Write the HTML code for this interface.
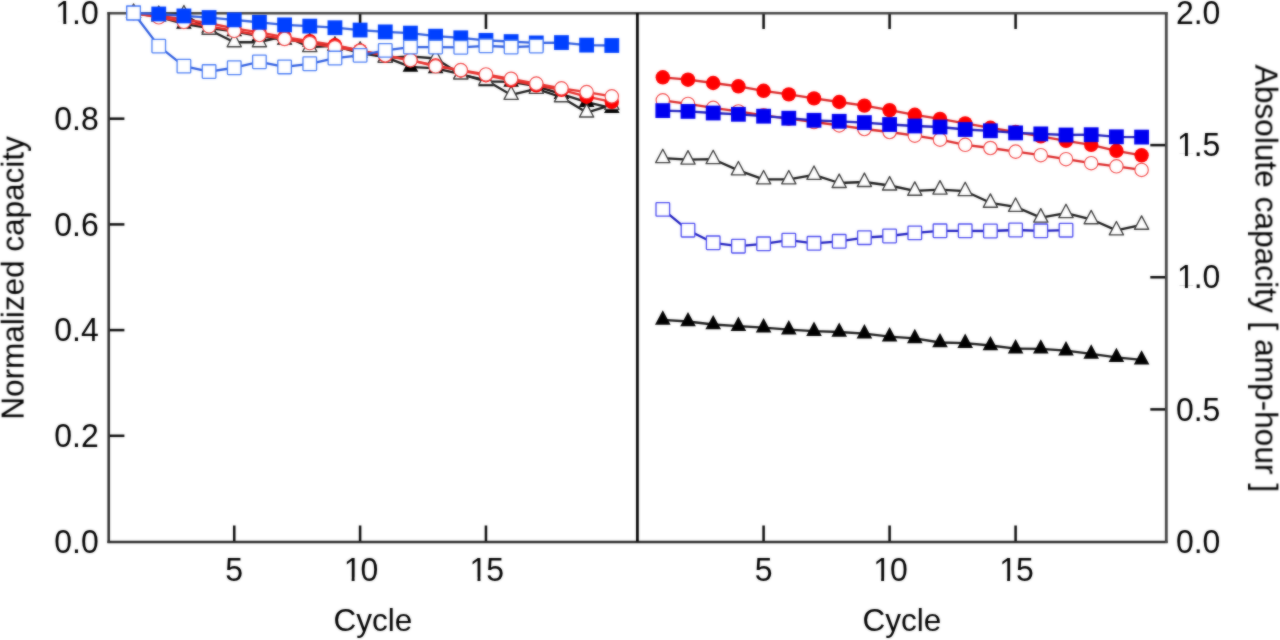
<!DOCTYPE html>
<html><head><meta charset="utf-8"><title>Capacity vs Cycle</title><style>
html,body{margin:0;padding:0;background:#fff;width:1280px;height:640px;overflow:hidden}
svg{display:block;font-family:"Liberation Sans",sans-serif;font-kerning:none}
</style></head><body>
<svg width="1280" height="640" viewBox="0 0 1280 640">
<defs><filter id="soft" x="0" y="0" width="1" height="1" color-interpolation-filters="sRGB"><feGaussianBlur in="SourceGraphic" stdDeviation="1" result="b"/><feComposite in="SourceGraphic" in2="b" operator="arithmetic" k1="0" k2="0.45" k3="0.55" k4="0"/></filter></defs>
<rect width="1280" height="640" fill="#fff"/>
<g filter="url(#soft)">
<rect width="1280" height="640" fill="#fff"/>
<g id="axes">
<line x1="234.25" y1="541.5" x2="234.25" y2="525.5" stroke="#0a0a0a" stroke-width="2.5"/>
<line x1="234.25" y1="13.0" x2="234.25" y2="29.0" stroke="#0a0a0a" stroke-width="2.5"/>
<line x1="763.6" y1="541.5" x2="763.6" y2="525.5" stroke="#0a0a0a" stroke-width="2.5"/>
<line x1="763.6" y1="13.0" x2="763.6" y2="29.0" stroke="#0a0a0a" stroke-width="2.5"/>
<line x1="360.1" y1="541.5" x2="360.1" y2="525.5" stroke="#0a0a0a" stroke-width="2.5"/>
<line x1="360.1" y1="13.0" x2="360.1" y2="29.0" stroke="#0a0a0a" stroke-width="2.5"/>
<line x1="889.6" y1="541.5" x2="889.6" y2="525.5" stroke="#0a0a0a" stroke-width="2.5"/>
<line x1="889.6" y1="13.0" x2="889.6" y2="29.0" stroke="#0a0a0a" stroke-width="2.5"/>
<line x1="485.95" y1="541.5" x2="485.95" y2="525.5" stroke="#0a0a0a" stroke-width="2.5"/>
<line x1="485.95" y1="13.0" x2="485.95" y2="29.0" stroke="#0a0a0a" stroke-width="2.5"/>
<line x1="1015.6" y1="541.5" x2="1015.6" y2="525.5" stroke="#0a0a0a" stroke-width="2.5"/>
<line x1="1015.6" y1="13.0" x2="1015.6" y2="29.0" stroke="#0a0a0a" stroke-width="2.5"/>
<line x1="108.6" y1="435.8" x2="124.4" y2="435.8" stroke="#0a0a0a" stroke-width="2.5"/>
<line x1="108.6" y1="330.1" x2="124.4" y2="330.1" stroke="#0a0a0a" stroke-width="2.5"/>
<line x1="108.6" y1="224.4" x2="124.4" y2="224.4" stroke="#0a0a0a" stroke-width="2.5"/>
<line x1="108.6" y1="118.7" x2="124.4" y2="118.7" stroke="#0a0a0a" stroke-width="2.5"/>
<line x1="1150.3" y1="409.38" x2="1166.3" y2="409.38" stroke="#0a0a0a" stroke-width="2.5"/>
<line x1="1150.3" y1="277.25" x2="1166.3" y2="277.25" stroke="#0a0a0a" stroke-width="2.5"/>
<line x1="1150.3" y1="145.12" x2="1166.3" y2="145.12" stroke="#0a0a0a" stroke-width="2.5"/>
<line x1="107.4" y1="13.2" x2="1167.6" y2="13.2" stroke="#434343" stroke-width="2.6"/>
<line x1="107.4" y1="541.9" x2="1167.6" y2="541.9" stroke="#2a2a2a" stroke-width="2.5"/>
<line x1="108.7" y1="12.0" x2="108.7" y2="543.0" stroke="#303030" stroke-width="2.6"/>
<line x1="1166.3" y1="12.0" x2="1166.3" y2="543.0" stroke="#444" stroke-width="2.8"/>
<line x1="637.4" y1="13.0" x2="637.4" y2="541.5" stroke="#000" stroke-width="2.7"/>
</g>
<g id="normalized">
<polyline points="133.57,13 158.74,16.82 183.91,23.97 209.08,28.03 234.25,31.36 259.42,36.13 284.59,39.95 309.76,41.86 334.93,45.91 360.1,53.07 385.27,57.12 410.44,66.9 435.61,68.33 460.78,74.05 485.95,81.45 511.12,81.92 536.29,86.22 561.46,94.09 586.63,102.2 611.8,108.16" fill="none" stroke="#1a1a1a" stroke-width="2.3" stroke-linejoin="round"/>
<path d="M133.57,3.4L141.37,17.8L125.77,17.8Z" fill="#000" stroke="none" stroke-width="0" stroke-linejoin="round"/>
<path d="M158.74,7.22L166.54,21.62L150.94,21.62Z" fill="#000" stroke="none" stroke-width="0" stroke-linejoin="round"/>
<path d="M183.91,14.37L191.71,28.77L176.11,28.77Z" fill="#000" stroke="none" stroke-width="0" stroke-linejoin="round"/>
<path d="M209.08,18.43L216.88,32.83L201.28,32.83Z" fill="#000" stroke="none" stroke-width="0" stroke-linejoin="round"/>
<path d="M234.25,21.76L242.05,36.16L226.45,36.16Z" fill="#000" stroke="none" stroke-width="0" stroke-linejoin="round"/>
<path d="M259.42,26.53L267.22,40.93L251.62,40.93Z" fill="#000" stroke="none" stroke-width="0" stroke-linejoin="round"/>
<path d="M284.59,30.35L292.39,44.75L276.79,44.75Z" fill="#000" stroke="none" stroke-width="0" stroke-linejoin="round"/>
<path d="M309.76,32.26L317.56,46.66L301.96,46.66Z" fill="#000" stroke="none" stroke-width="0" stroke-linejoin="round"/>
<path d="M334.93,36.31L342.73,50.71L327.13,50.71Z" fill="#000" stroke="none" stroke-width="0" stroke-linejoin="round"/>
<path d="M360.1,43.47L367.9,57.87L352.3,57.87Z" fill="#000" stroke="none" stroke-width="0" stroke-linejoin="round"/>
<path d="M385.27,47.52L393.07,61.92L377.47,61.92Z" fill="#000" stroke="none" stroke-width="0" stroke-linejoin="round"/>
<path d="M410.44,57.3L418.24,71.7L402.64,71.7Z" fill="#000" stroke="none" stroke-width="0" stroke-linejoin="round"/>
<path d="M435.61,58.73L443.41,73.13L427.81,73.13Z" fill="#000" stroke="none" stroke-width="0" stroke-linejoin="round"/>
<path d="M460.78,64.45L468.58,78.85L452.98,78.85Z" fill="#000" stroke="none" stroke-width="0" stroke-linejoin="round"/>
<path d="M485.95,71.85L493.75,86.25L478.15,86.25Z" fill="#000" stroke="none" stroke-width="0" stroke-linejoin="round"/>
<path d="M511.12,72.32L518.92,86.72L503.32,86.72Z" fill="#000" stroke="none" stroke-width="0" stroke-linejoin="round"/>
<path d="M536.29,76.62L544.09,91.02L528.49,91.02Z" fill="#000" stroke="none" stroke-width="0" stroke-linejoin="round"/>
<path d="M561.46,84.49L569.26,98.89L553.66,98.89Z" fill="#000" stroke="none" stroke-width="0" stroke-linejoin="round"/>
<path d="M586.63,92.6L594.43,107L578.83,107Z" fill="#000" stroke="none" stroke-width="0" stroke-linejoin="round"/>
<path d="M611.8,98.56L619.6,112.96L604,112.96Z" fill="#000" stroke="none" stroke-width="0" stroke-linejoin="round"/>
<polyline points="133.57,13 158.74,14.93 183.91,14.38 209.08,29.82 234.25,42.23 259.42,42.23 284.59,36.03 309.76,47.19 334.93,45.82 360.1,50.64 385.27,57.95 410.44,56.29 435.61,58.5 460.78,74.5 485.95,80.15 511.12,94.9 536.29,88.83 561.46,97.25 586.63,112.55 611.8,104.83" fill="none" stroke="#1a1a1a" stroke-width="2.3" stroke-linejoin="round"/>
<path d="M133.57,4.07L140.67,17.47L126.47,17.47Z" fill="#fff" stroke="#3a3a3a" stroke-width="1.35" stroke-linejoin="round"/>
<path d="M158.74,6L165.84,19.4L151.64,19.4Z" fill="#fff" stroke="#3a3a3a" stroke-width="1.35" stroke-linejoin="round"/>
<path d="M183.91,5.45L191.01,18.85L176.81,18.85Z" fill="#fff" stroke="#3a3a3a" stroke-width="1.35" stroke-linejoin="round"/>
<path d="M209.08,20.89L216.18,34.29L201.98,34.29Z" fill="#fff" stroke="#3a3a3a" stroke-width="1.35" stroke-linejoin="round"/>
<path d="M234.25,33.3L241.35,46.7L227.15,46.7Z" fill="#fff" stroke="#3a3a3a" stroke-width="1.35" stroke-linejoin="round"/>
<path d="M259.42,33.3L266.52,46.7L252.32,46.7Z" fill="#fff" stroke="#3a3a3a" stroke-width="1.35" stroke-linejoin="round"/>
<path d="M284.59,27.09L291.69,40.49L277.49,40.49Z" fill="#fff" stroke="#3a3a3a" stroke-width="1.35" stroke-linejoin="round"/>
<path d="M309.76,38.26L316.86,51.66L302.66,51.66Z" fill="#fff" stroke="#3a3a3a" stroke-width="1.35" stroke-linejoin="round"/>
<path d="M334.93,36.88L342.03,50.28L327.83,50.28Z" fill="#fff" stroke="#3a3a3a" stroke-width="1.35" stroke-linejoin="round"/>
<path d="M360.1,41.71L367.2,55.11L353,55.11Z" fill="#fff" stroke="#3a3a3a" stroke-width="1.35" stroke-linejoin="round"/>
<path d="M385.27,49.02L392.37,62.42L378.17,62.42Z" fill="#fff" stroke="#3a3a3a" stroke-width="1.35" stroke-linejoin="round"/>
<path d="M410.44,47.36L417.54,60.76L403.34,60.76Z" fill="#fff" stroke="#3a3a3a" stroke-width="1.35" stroke-linejoin="round"/>
<path d="M435.61,49.57L442.71,62.97L428.51,62.97Z" fill="#fff" stroke="#3a3a3a" stroke-width="1.35" stroke-linejoin="round"/>
<path d="M460.78,65.56L467.88,78.96L453.68,78.96Z" fill="#fff" stroke="#3a3a3a" stroke-width="1.35" stroke-linejoin="round"/>
<path d="M485.95,71.21L493.05,84.61L478.85,84.61Z" fill="#fff" stroke="#3a3a3a" stroke-width="1.35" stroke-linejoin="round"/>
<path d="M511.12,85.97L518.22,99.37L504.02,99.37Z" fill="#fff" stroke="#3a3a3a" stroke-width="1.35" stroke-linejoin="round"/>
<path d="M536.29,79.9L543.39,93.3L529.19,93.3Z" fill="#fff" stroke="#3a3a3a" stroke-width="1.35" stroke-linejoin="round"/>
<path d="M561.46,88.31L568.56,101.71L554.36,101.71Z" fill="#fff" stroke="#3a3a3a" stroke-width="1.35" stroke-linejoin="round"/>
<path d="M586.63,103.62L593.73,117.02L579.53,117.02Z" fill="#fff" stroke="#3a3a3a" stroke-width="1.35" stroke-linejoin="round"/>
<path d="M611.8,95.9L618.9,109.3L604.7,109.3Z" fill="#fff" stroke="#3a3a3a" stroke-width="1.35" stroke-linejoin="round"/>
<polyline points="133.57,13 158.74,15.73 183.91,19.49 209.08,23.25 234.25,28.37 259.42,32.47 284.59,37.02 309.76,41.12 334.93,45.22 360.1,50.46 385.27,55.69 410.44,60.36 435.61,65.49 460.78,70.5 485.95,75.28 511.12,80.29 536.29,85.3 561.46,89.85 586.63,96.68 611.8,101.8" fill="none" stroke="#e8302c" stroke-width="2.3" stroke-linejoin="round"/>
<circle cx="133.57" cy="13" r="7.2" fill="#ff0000" stroke="none" stroke-width="0"/>
<circle cx="158.74" cy="15.73" r="7.2" fill="#ff0000" stroke="none" stroke-width="0"/>
<circle cx="183.91" cy="19.49" r="7.2" fill="#ff0000" stroke="none" stroke-width="0"/>
<circle cx="209.08" cy="23.25" r="7.2" fill="#ff0000" stroke="none" stroke-width="0"/>
<circle cx="234.25" cy="28.37" r="7.2" fill="#ff0000" stroke="none" stroke-width="0"/>
<circle cx="259.42" cy="32.47" r="7.2" fill="#ff0000" stroke="none" stroke-width="0"/>
<circle cx="284.59" cy="37.02" r="7.2" fill="#ff0000" stroke="none" stroke-width="0"/>
<circle cx="309.76" cy="41.12" r="7.2" fill="#ff0000" stroke="none" stroke-width="0"/>
<circle cx="334.93" cy="45.22" r="7.2" fill="#ff0000" stroke="none" stroke-width="0"/>
<circle cx="360.1" cy="50.46" r="7.2" fill="#ff0000" stroke="none" stroke-width="0"/>
<circle cx="385.27" cy="55.69" r="7.2" fill="#ff0000" stroke="none" stroke-width="0"/>
<circle cx="410.44" cy="60.36" r="7.2" fill="#ff0000" stroke="none" stroke-width="0"/>
<circle cx="435.61" cy="65.49" r="7.2" fill="#ff0000" stroke="none" stroke-width="0"/>
<circle cx="460.78" cy="70.5" r="7.2" fill="#ff0000" stroke="none" stroke-width="0"/>
<circle cx="485.95" cy="75.28" r="7.2" fill="#ff0000" stroke="none" stroke-width="0"/>
<circle cx="511.12" cy="80.29" r="7.2" fill="#ff0000" stroke="none" stroke-width="0"/>
<circle cx="536.29" cy="85.3" r="7.2" fill="#ff0000" stroke="none" stroke-width="0"/>
<circle cx="561.46" cy="89.85" r="7.2" fill="#ff0000" stroke="none" stroke-width="0"/>
<circle cx="586.63" cy="96.68" r="7.2" fill="#ff0000" stroke="none" stroke-width="0"/>
<circle cx="611.8" cy="101.8" r="7.2" fill="#ff0000" stroke="none" stroke-width="0"/>
<polyline points="133.57,13 158.74,17.31 183.91,21.98 209.08,26.3 234.25,30.97 259.42,35.04 284.59,38.99 309.76,43.07 334.93,47.38 360.1,50.97 385.27,55.28 410.44,60.2 435.61,66.31 460.78,70.14 485.95,74.45 511.12,78.76 536.29,83.55 561.46,88.35 586.63,92.06 611.8,96.37" fill="none" stroke="#e8302c" stroke-width="2.3" stroke-linejoin="round"/>
<circle cx="133.57" cy="13" r="6.7" fill="#fff" stroke="#f24848" stroke-width="1.15"/>
<circle cx="158.74" cy="17.31" r="6.7" fill="#fff" stroke="#f24848" stroke-width="1.15"/>
<circle cx="183.91" cy="21.98" r="6.7" fill="#fff" stroke="#f24848" stroke-width="1.15"/>
<circle cx="209.08" cy="26.3" r="6.7" fill="#fff" stroke="#f24848" stroke-width="1.15"/>
<circle cx="234.25" cy="30.97" r="6.7" fill="#fff" stroke="#f24848" stroke-width="1.15"/>
<circle cx="259.42" cy="35.04" r="6.7" fill="#fff" stroke="#f24848" stroke-width="1.15"/>
<circle cx="284.59" cy="38.99" r="6.7" fill="#fff" stroke="#f24848" stroke-width="1.15"/>
<circle cx="309.76" cy="43.07" r="6.7" fill="#fff" stroke="#f24848" stroke-width="1.15"/>
<circle cx="334.93" cy="47.38" r="6.7" fill="#fff" stroke="#f24848" stroke-width="1.15"/>
<circle cx="360.1" cy="50.97" r="6.7" fill="#fff" stroke="#f24848" stroke-width="1.15"/>
<circle cx="385.27" cy="55.28" r="6.7" fill="#fff" stroke="#f24848" stroke-width="1.15"/>
<circle cx="410.44" cy="60.2" r="6.7" fill="#fff" stroke="#f24848" stroke-width="1.15"/>
<circle cx="435.61" cy="66.31" r="6.7" fill="#fff" stroke="#f24848" stroke-width="1.15"/>
<circle cx="460.78" cy="70.14" r="6.7" fill="#fff" stroke="#f24848" stroke-width="1.15"/>
<circle cx="485.95" cy="74.45" r="6.7" fill="#fff" stroke="#f24848" stroke-width="1.15"/>
<circle cx="511.12" cy="78.76" r="6.7" fill="#fff" stroke="#f24848" stroke-width="1.15"/>
<circle cx="536.29" cy="83.55" r="6.7" fill="#fff" stroke="#f24848" stroke-width="1.15"/>
<circle cx="561.46" cy="88.35" r="6.7" fill="#fff" stroke="#f24848" stroke-width="1.15"/>
<circle cx="586.63" cy="92.06" r="6.7" fill="#fff" stroke="#f24848" stroke-width="1.15"/>
<circle cx="611.8" cy="96.37" r="6.7" fill="#fff" stroke="#f24848" stroke-width="1.15"/>
<polyline points="133.57,13 158.74,13.98 183.91,15.94 209.08,17.54 234.25,19.87 259.42,22.32 284.59,24.9 309.76,26.12 334.93,27.72 360.1,30.05 385.27,31.89 410.44,33.11 435.61,36.18 460.78,37.78 485.95,40.35 511.12,41.58 536.29,42.93 561.46,42.56 586.63,45.13 611.8,45.5" fill="none" stroke="#2f5ee0" stroke-width="2.3" stroke-linejoin="round"/>
<rect x="126.17" y="5.6" width="14.8" height="14.8" fill="#0040ff" stroke="none" stroke-width="0"/>
<rect x="151.34" y="6.58" width="14.8" height="14.8" fill="#0040ff" stroke="none" stroke-width="0"/>
<rect x="176.51" y="8.54" width="14.8" height="14.8" fill="#0040ff" stroke="none" stroke-width="0"/>
<rect x="201.68" y="10.14" width="14.8" height="14.8" fill="#0040ff" stroke="none" stroke-width="0"/>
<rect x="226.85" y="12.47" width="14.8" height="14.8" fill="#0040ff" stroke="none" stroke-width="0"/>
<rect x="252.02" y="14.92" width="14.8" height="14.8" fill="#0040ff" stroke="none" stroke-width="0"/>
<rect x="277.19" y="17.5" width="14.8" height="14.8" fill="#0040ff" stroke="none" stroke-width="0"/>
<rect x="302.36" y="18.72" width="14.8" height="14.8" fill="#0040ff" stroke="none" stroke-width="0"/>
<rect x="327.53" y="20.32" width="14.8" height="14.8" fill="#0040ff" stroke="none" stroke-width="0"/>
<rect x="352.7" y="22.65" width="14.8" height="14.8" fill="#0040ff" stroke="none" stroke-width="0"/>
<rect x="377.87" y="24.49" width="14.8" height="14.8" fill="#0040ff" stroke="none" stroke-width="0"/>
<rect x="403.04" y="25.71" width="14.8" height="14.8" fill="#0040ff" stroke="none" stroke-width="0"/>
<rect x="428.21" y="28.78" width="14.8" height="14.8" fill="#0040ff" stroke="none" stroke-width="0"/>
<rect x="453.38" y="30.38" width="14.8" height="14.8" fill="#0040ff" stroke="none" stroke-width="0"/>
<rect x="478.55" y="32.95" width="14.8" height="14.8" fill="#0040ff" stroke="none" stroke-width="0"/>
<rect x="503.72" y="34.18" width="14.8" height="14.8" fill="#0040ff" stroke="none" stroke-width="0"/>
<rect x="528.89" y="35.53" width="14.8" height="14.8" fill="#0040ff" stroke="none" stroke-width="0"/>
<rect x="554.06" y="35.16" width="14.8" height="14.8" fill="#0040ff" stroke="none" stroke-width="0"/>
<rect x="579.23" y="37.73" width="14.8" height="14.8" fill="#0040ff" stroke="none" stroke-width="0"/>
<rect x="604.4" y="38.1" width="14.8" height="14.8" fill="#0040ff" stroke="none" stroke-width="0"/>
<polyline points="133.57,13 158.74,46.1 183.91,66.15 209.08,71.56 234.25,67.74 259.42,61.86 284.59,66.95 309.76,63.77 334.93,58.04 360.1,55.33 385.27,50.4 410.44,47.06 435.61,47.06 460.78,47.37 485.95,45.78 511.12,47.06 536.29,46.1" fill="none" stroke="#2f5ee0" stroke-width="2.3" stroke-linejoin="round"/>
<rect x="126.77" y="6.2" width="13.6" height="13.6" rx="0.8" fill="#fff" stroke="#4a7df5" stroke-width="1.3"/>
<rect x="151.94" y="39.3" width="13.6" height="13.6" rx="0.8" fill="#fff" stroke="#4a7df5" stroke-width="1.3"/>
<rect x="177.11" y="59.35" width="13.6" height="13.6" rx="0.8" fill="#fff" stroke="#4a7df5" stroke-width="1.3"/>
<rect x="202.28" y="64.76" width="13.6" height="13.6" rx="0.8" fill="#fff" stroke="#4a7df5" stroke-width="1.3"/>
<rect x="227.45" y="60.94" width="13.6" height="13.6" rx="0.8" fill="#fff" stroke="#4a7df5" stroke-width="1.3"/>
<rect x="252.62" y="55.06" width="13.6" height="13.6" rx="0.8" fill="#fff" stroke="#4a7df5" stroke-width="1.3"/>
<rect x="277.79" y="60.15" width="13.6" height="13.6" rx="0.8" fill="#fff" stroke="#4a7df5" stroke-width="1.3"/>
<rect x="302.96" y="56.97" width="13.6" height="13.6" rx="0.8" fill="#fff" stroke="#4a7df5" stroke-width="1.3"/>
<rect x="328.13" y="51.24" width="13.6" height="13.6" rx="0.8" fill="#fff" stroke="#4a7df5" stroke-width="1.3"/>
<rect x="353.3" y="48.53" width="13.6" height="13.6" rx="0.8" fill="#fff" stroke="#4a7df5" stroke-width="1.3"/>
<rect x="378.47" y="43.6" width="13.6" height="13.6" rx="0.8" fill="#fff" stroke="#4a7df5" stroke-width="1.3"/>
<rect x="403.64" y="40.26" width="13.6" height="13.6" rx="0.8" fill="#fff" stroke="#4a7df5" stroke-width="1.3"/>
<rect x="428.81" y="40.26" width="13.6" height="13.6" rx="0.8" fill="#fff" stroke="#4a7df5" stroke-width="1.3"/>
<rect x="453.98" y="40.57" width="13.6" height="13.6" rx="0.8" fill="#fff" stroke="#4a7df5" stroke-width="1.3"/>
<rect x="479.15" y="38.98" width="13.6" height="13.6" rx="0.8" fill="#fff" stroke="#4a7df5" stroke-width="1.3"/>
<rect x="504.32" y="40.26" width="13.6" height="13.6" rx="0.8" fill="#fff" stroke="#4a7df5" stroke-width="1.3"/>
<rect x="529.49" y="39.3" width="13.6" height="13.6" rx="0.8" fill="#fff" stroke="#4a7df5" stroke-width="1.3"/>
</g>
<g id="absolute">
<polyline points="662.8,319.9 688,321.5 713.2,324.5 738.4,326.2 763.6,327.6 788.8,329.6 814,331.2 839.2,332 864.4,333.7 889.6,336.7 914.8,338.4 940,342.5 965.2,343.1 990.4,345.5 1015.6,348.6 1040.8,348.8 1066,350.6 1091.2,353.9 1116.4,357.3 1141.6,359.8" fill="none" stroke="#1a1a1a" stroke-width="2.3" stroke-linejoin="round"/>
<path d="M662.8,310.3L670.6,324.7L655,324.7Z" fill="#000" stroke="none" stroke-width="0" stroke-linejoin="round"/>
<path d="M688,311.9L695.8,326.3L680.2,326.3Z" fill="#000" stroke="none" stroke-width="0" stroke-linejoin="round"/>
<path d="M713.2,314.9L721,329.3L705.4,329.3Z" fill="#000" stroke="none" stroke-width="0" stroke-linejoin="round"/>
<path d="M738.4,316.6L746.2,331L730.6,331Z" fill="#000" stroke="none" stroke-width="0" stroke-linejoin="round"/>
<path d="M763.6,318L771.4,332.4L755.8,332.4Z" fill="#000" stroke="none" stroke-width="0" stroke-linejoin="round"/>
<path d="M788.8,320L796.6,334.4L781,334.4Z" fill="#000" stroke="none" stroke-width="0" stroke-linejoin="round"/>
<path d="M814,321.6L821.8,336L806.2,336Z" fill="#000" stroke="none" stroke-width="0" stroke-linejoin="round"/>
<path d="M839.2,322.4L847,336.8L831.4,336.8Z" fill="#000" stroke="none" stroke-width="0" stroke-linejoin="round"/>
<path d="M864.4,324.1L872.2,338.5L856.6,338.5Z" fill="#000" stroke="none" stroke-width="0" stroke-linejoin="round"/>
<path d="M889.6,327.1L897.4,341.5L881.8,341.5Z" fill="#000" stroke="none" stroke-width="0" stroke-linejoin="round"/>
<path d="M914.8,328.8L922.6,343.2L907,343.2Z" fill="#000" stroke="none" stroke-width="0" stroke-linejoin="round"/>
<path d="M940,332.9L947.8,347.3L932.2,347.3Z" fill="#000" stroke="none" stroke-width="0" stroke-linejoin="round"/>
<path d="M965.2,333.5L973,347.9L957.4,347.9Z" fill="#000" stroke="none" stroke-width="0" stroke-linejoin="round"/>
<path d="M990.4,335.9L998.2,350.3L982.6,350.3Z" fill="#000" stroke="none" stroke-width="0" stroke-linejoin="round"/>
<path d="M1015.6,339L1023.4,353.4L1007.8,353.4Z" fill="#000" stroke="none" stroke-width="0" stroke-linejoin="round"/>
<path d="M1040.8,339.2L1048.6,353.6L1033,353.6Z" fill="#000" stroke="none" stroke-width="0" stroke-linejoin="round"/>
<path d="M1066,341L1073.8,355.4L1058.2,355.4Z" fill="#000" stroke="none" stroke-width="0" stroke-linejoin="round"/>
<path d="M1091.2,344.3L1099,358.7L1083.4,358.7Z" fill="#000" stroke="none" stroke-width="0" stroke-linejoin="round"/>
<path d="M1116.4,347.7L1124.2,362.1L1108.6,362.1Z" fill="#000" stroke="none" stroke-width="0" stroke-linejoin="round"/>
<path d="M1141.6,350.2L1149.4,364.6L1133.8,364.6Z" fill="#000" stroke="none" stroke-width="0" stroke-linejoin="round"/>
<polyline points="662.8,158.2 688,159.6 713.2,159.2 738.4,170.4 763.6,179.4 788.8,179.4 814,174.9 839.2,183 864.4,182 889.6,185.5 914.8,190.8 940,189.6 965.2,191.2 990.4,202.8 1015.6,206.9 1040.8,217.6 1066,213.2 1091.2,219.3 1116.4,230.4 1141.6,224.8" fill="none" stroke="#1a1a1a" stroke-width="2.3" stroke-linejoin="round"/>
<path d="M662.8,149.27L669.9,162.67L655.7,162.67Z" fill="#fff" stroke="#3a3a3a" stroke-width="1.35" stroke-linejoin="round"/>
<path d="M688,150.67L695.1,164.07L680.9,164.07Z" fill="#fff" stroke="#3a3a3a" stroke-width="1.35" stroke-linejoin="round"/>
<path d="M713.2,150.27L720.3,163.67L706.1,163.67Z" fill="#fff" stroke="#3a3a3a" stroke-width="1.35" stroke-linejoin="round"/>
<path d="M738.4,161.47L745.5,174.87L731.3,174.87Z" fill="#fff" stroke="#3a3a3a" stroke-width="1.35" stroke-linejoin="round"/>
<path d="M763.6,170.47L770.7,183.87L756.5,183.87Z" fill="#fff" stroke="#3a3a3a" stroke-width="1.35" stroke-linejoin="round"/>
<path d="M788.8,170.47L795.9,183.87L781.7,183.87Z" fill="#fff" stroke="#3a3a3a" stroke-width="1.35" stroke-linejoin="round"/>
<path d="M814,165.97L821.1,179.37L806.9,179.37Z" fill="#fff" stroke="#3a3a3a" stroke-width="1.35" stroke-linejoin="round"/>
<path d="M839.2,174.07L846.3,187.47L832.1,187.47Z" fill="#fff" stroke="#3a3a3a" stroke-width="1.35" stroke-linejoin="round"/>
<path d="M864.4,173.07L871.5,186.47L857.3,186.47Z" fill="#fff" stroke="#3a3a3a" stroke-width="1.35" stroke-linejoin="round"/>
<path d="M889.6,176.57L896.7,189.97L882.5,189.97Z" fill="#fff" stroke="#3a3a3a" stroke-width="1.35" stroke-linejoin="round"/>
<path d="M914.8,181.87L921.9,195.27L907.7,195.27Z" fill="#fff" stroke="#3a3a3a" stroke-width="1.35" stroke-linejoin="round"/>
<path d="M940,180.67L947.1,194.07L932.9,194.07Z" fill="#fff" stroke="#3a3a3a" stroke-width="1.35" stroke-linejoin="round"/>
<path d="M965.2,182.27L972.3,195.67L958.1,195.67Z" fill="#fff" stroke="#3a3a3a" stroke-width="1.35" stroke-linejoin="round"/>
<path d="M990.4,193.87L997.5,207.27L983.3,207.27Z" fill="#fff" stroke="#3a3a3a" stroke-width="1.35" stroke-linejoin="round"/>
<path d="M1015.6,197.97L1022.7,211.37L1008.5,211.37Z" fill="#fff" stroke="#3a3a3a" stroke-width="1.35" stroke-linejoin="round"/>
<path d="M1040.8,208.67L1047.9,222.07L1033.7,222.07Z" fill="#fff" stroke="#3a3a3a" stroke-width="1.35" stroke-linejoin="round"/>
<path d="M1066,204.27L1073.1,217.67L1058.9,217.67Z" fill="#fff" stroke="#3a3a3a" stroke-width="1.35" stroke-linejoin="round"/>
<path d="M1091.2,210.37L1098.3,223.77L1084.1,223.77Z" fill="#fff" stroke="#3a3a3a" stroke-width="1.35" stroke-linejoin="round"/>
<path d="M1116.4,221.47L1123.5,234.87L1109.3,234.87Z" fill="#fff" stroke="#3a3a3a" stroke-width="1.35" stroke-linejoin="round"/>
<path d="M1141.6,215.87L1148.7,229.27L1134.5,229.27Z" fill="#fff" stroke="#3a3a3a" stroke-width="1.35" stroke-linejoin="round"/>
<polyline points="662.8,77.3 688,79.7 713.2,83 738.4,86.3 763.6,90.8 788.8,94.4 814,98.4 839.2,102 864.4,105.6 889.6,110.2 914.8,114.8 940,118.9 965.2,123.4 990.4,127.8 1015.6,132 1040.8,136.4 1066,140.8 1091.2,144.8 1116.4,150.8 1141.6,155.3" fill="none" stroke="#dc2626" stroke-width="2.3" stroke-linejoin="round"/>
<circle cx="662.8" cy="77.3" r="7.2" fill="#ff0000" stroke="none" stroke-width="0"/>
<circle cx="688" cy="79.7" r="7.2" fill="#ff0000" stroke="none" stroke-width="0"/>
<circle cx="713.2" cy="83" r="7.2" fill="#ff0000" stroke="none" stroke-width="0"/>
<circle cx="738.4" cy="86.3" r="7.2" fill="#ff0000" stroke="none" stroke-width="0"/>
<circle cx="763.6" cy="90.8" r="7.2" fill="#ff0000" stroke="none" stroke-width="0"/>
<circle cx="788.8" cy="94.4" r="7.2" fill="#ff0000" stroke="none" stroke-width="0"/>
<circle cx="814" cy="98.4" r="7.2" fill="#ff0000" stroke="none" stroke-width="0"/>
<circle cx="839.2" cy="102" r="7.2" fill="#ff0000" stroke="none" stroke-width="0"/>
<circle cx="864.4" cy="105.6" r="7.2" fill="#ff0000" stroke="none" stroke-width="0"/>
<circle cx="889.6" cy="110.2" r="7.2" fill="#ff0000" stroke="none" stroke-width="0"/>
<circle cx="914.8" cy="114.8" r="7.2" fill="#ff0000" stroke="none" stroke-width="0"/>
<circle cx="940" cy="118.9" r="7.2" fill="#ff0000" stroke="none" stroke-width="0"/>
<circle cx="965.2" cy="123.4" r="7.2" fill="#ff0000" stroke="none" stroke-width="0"/>
<circle cx="990.4" cy="127.8" r="7.2" fill="#ff0000" stroke="none" stroke-width="0"/>
<circle cx="1015.6" cy="132" r="7.2" fill="#ff0000" stroke="none" stroke-width="0"/>
<circle cx="1040.8" cy="136.4" r="7.2" fill="#ff0000" stroke="none" stroke-width="0"/>
<circle cx="1066" cy="140.8" r="7.2" fill="#ff0000" stroke="none" stroke-width="0"/>
<circle cx="1091.2" cy="144.8" r="7.2" fill="#ff0000" stroke="none" stroke-width="0"/>
<circle cx="1116.4" cy="150.8" r="7.2" fill="#ff0000" stroke="none" stroke-width="0"/>
<circle cx="1141.6" cy="155.3" r="7.2" fill="#ff0000" stroke="none" stroke-width="0"/>
<polyline points="662.8,100.3 688,103.9 713.2,107.8 738.4,111.4 763.6,115.3 788.8,118.7 814,122 839.2,125.4 864.4,129 889.6,132 914.8,135.6 940,139.7 965.2,144.8 990.4,148 1015.6,151.6 1040.8,155.2 1066,159.2 1091.2,163.2 1116.4,166.3 1141.6,169.9" fill="none" stroke="#dc2626" stroke-width="2.3" stroke-linejoin="round"/>
<circle cx="662.8" cy="100.3" r="6.7" fill="#fff" stroke="#f24848" stroke-width="1.15"/>
<circle cx="688" cy="103.9" r="6.7" fill="#fff" stroke="#f24848" stroke-width="1.15"/>
<circle cx="713.2" cy="107.8" r="6.7" fill="#fff" stroke="#f24848" stroke-width="1.15"/>
<circle cx="738.4" cy="111.4" r="6.7" fill="#fff" stroke="#f24848" stroke-width="1.15"/>
<circle cx="763.6" cy="115.3" r="6.7" fill="#fff" stroke="#f24848" stroke-width="1.15"/>
<circle cx="788.8" cy="118.7" r="6.7" fill="#fff" stroke="#f24848" stroke-width="1.15"/>
<circle cx="814" cy="122" r="6.7" fill="#fff" stroke="#f24848" stroke-width="1.15"/>
<circle cx="839.2" cy="125.4" r="6.7" fill="#fff" stroke="#f24848" stroke-width="1.15"/>
<circle cx="864.4" cy="129" r="6.7" fill="#fff" stroke="#f24848" stroke-width="1.15"/>
<circle cx="889.6" cy="132" r="6.7" fill="#fff" stroke="#f24848" stroke-width="1.15"/>
<circle cx="914.8" cy="135.6" r="6.7" fill="#fff" stroke="#f24848" stroke-width="1.15"/>
<circle cx="940" cy="139.7" r="6.7" fill="#fff" stroke="#f24848" stroke-width="1.15"/>
<circle cx="965.2" cy="144.8" r="6.7" fill="#fff" stroke="#f24848" stroke-width="1.15"/>
<circle cx="990.4" cy="148" r="6.7" fill="#fff" stroke="#f24848" stroke-width="1.15"/>
<circle cx="1015.6" cy="151.6" r="6.7" fill="#fff" stroke="#f24848" stroke-width="1.15"/>
<circle cx="1040.8" cy="155.2" r="6.7" fill="#fff" stroke="#f24848" stroke-width="1.15"/>
<circle cx="1066" cy="159.2" r="6.7" fill="#fff" stroke="#f24848" stroke-width="1.15"/>
<circle cx="1091.2" cy="163.2" r="6.7" fill="#fff" stroke="#f24848" stroke-width="1.15"/>
<circle cx="1116.4" cy="166.3" r="6.7" fill="#fff" stroke="#f24848" stroke-width="1.15"/>
<circle cx="1141.6" cy="169.9" r="6.7" fill="#fff" stroke="#f24848" stroke-width="1.15"/>
<polyline points="662.8,110.6 688,111.4 713.2,113 738.4,114.3 763.6,116.2 788.8,118.2 814,120.3 839.2,121.3 864.4,122.6 889.6,124.5 914.8,126 940,127 965.2,129.5 990.4,130.8 1015.6,132.9 1040.8,133.9 1066,135 1091.2,134.7 1116.4,136.8 1141.6,137.1" fill="none" stroke="#1e1ebe" stroke-width="2.3" stroke-linejoin="round"/>
<rect x="655.4" y="103.2" width="14.8" height="14.8" fill="#0000f0" stroke="none" stroke-width="0"/>
<rect x="680.6" y="104" width="14.8" height="14.8" fill="#0000f0" stroke="none" stroke-width="0"/>
<rect x="705.8" y="105.6" width="14.8" height="14.8" fill="#0000f0" stroke="none" stroke-width="0"/>
<rect x="731" y="106.9" width="14.8" height="14.8" fill="#0000f0" stroke="none" stroke-width="0"/>
<rect x="756.2" y="108.8" width="14.8" height="14.8" fill="#0000f0" stroke="none" stroke-width="0"/>
<rect x="781.4" y="110.8" width="14.8" height="14.8" fill="#0000f0" stroke="none" stroke-width="0"/>
<rect x="806.6" y="112.9" width="14.8" height="14.8" fill="#0000f0" stroke="none" stroke-width="0"/>
<rect x="831.8" y="113.9" width="14.8" height="14.8" fill="#0000f0" stroke="none" stroke-width="0"/>
<rect x="857" y="115.2" width="14.8" height="14.8" fill="#0000f0" stroke="none" stroke-width="0"/>
<rect x="882.2" y="117.1" width="14.8" height="14.8" fill="#0000f0" stroke="none" stroke-width="0"/>
<rect x="907.4" y="118.6" width="14.8" height="14.8" fill="#0000f0" stroke="none" stroke-width="0"/>
<rect x="932.6" y="119.6" width="14.8" height="14.8" fill="#0000f0" stroke="none" stroke-width="0"/>
<rect x="957.8" y="122.1" width="14.8" height="14.8" fill="#0000f0" stroke="none" stroke-width="0"/>
<rect x="983" y="123.4" width="14.8" height="14.8" fill="#0000f0" stroke="none" stroke-width="0"/>
<rect x="1008.2" y="125.5" width="14.8" height="14.8" fill="#0000f0" stroke="none" stroke-width="0"/>
<rect x="1033.4" y="126.5" width="14.8" height="14.8" fill="#0000f0" stroke="none" stroke-width="0"/>
<rect x="1058.6" y="127.6" width="14.8" height="14.8" fill="#0000f0" stroke="none" stroke-width="0"/>
<rect x="1083.8" y="127.3" width="14.8" height="14.8" fill="#0000f0" stroke="none" stroke-width="0"/>
<rect x="1109" y="129.4" width="14.8" height="14.8" fill="#0000f0" stroke="none" stroke-width="0"/>
<rect x="1134.2" y="129.7" width="14.8" height="14.8" fill="#0000f0" stroke="none" stroke-width="0"/>
<polyline points="662.8,209.4 688,230.2 713.2,242.8 738.4,246.2 763.6,243.8 788.8,240.1 814,243.3 839.2,241.3 864.4,237.7 889.6,236 914.8,232.9 940,230.8 965.2,230.8 990.4,231 1015.6,230 1040.8,230.8 1066,230.2" fill="none" stroke="#1e1ebe" stroke-width="2.3" stroke-linejoin="round"/>
<rect x="656" y="202.6" width="13.6" height="13.6" rx="0.8" fill="#fff" stroke="#4848f0" stroke-width="1.3"/>
<rect x="681.2" y="223.4" width="13.6" height="13.6" rx="0.8" fill="#fff" stroke="#4848f0" stroke-width="1.3"/>
<rect x="706.4" y="236" width="13.6" height="13.6" rx="0.8" fill="#fff" stroke="#4848f0" stroke-width="1.3"/>
<rect x="731.6" y="239.4" width="13.6" height="13.6" rx="0.8" fill="#fff" stroke="#4848f0" stroke-width="1.3"/>
<rect x="756.8" y="237" width="13.6" height="13.6" rx="0.8" fill="#fff" stroke="#4848f0" stroke-width="1.3"/>
<rect x="782" y="233.3" width="13.6" height="13.6" rx="0.8" fill="#fff" stroke="#4848f0" stroke-width="1.3"/>
<rect x="807.2" y="236.5" width="13.6" height="13.6" rx="0.8" fill="#fff" stroke="#4848f0" stroke-width="1.3"/>
<rect x="832.4" y="234.5" width="13.6" height="13.6" rx="0.8" fill="#fff" stroke="#4848f0" stroke-width="1.3"/>
<rect x="857.6" y="230.9" width="13.6" height="13.6" rx="0.8" fill="#fff" stroke="#4848f0" stroke-width="1.3"/>
<rect x="882.8" y="229.2" width="13.6" height="13.6" rx="0.8" fill="#fff" stroke="#4848f0" stroke-width="1.3"/>
<rect x="908" y="226.1" width="13.6" height="13.6" rx="0.8" fill="#fff" stroke="#4848f0" stroke-width="1.3"/>
<rect x="933.2" y="224" width="13.6" height="13.6" rx="0.8" fill="#fff" stroke="#4848f0" stroke-width="1.3"/>
<rect x="958.4" y="224" width="13.6" height="13.6" rx="0.8" fill="#fff" stroke="#4848f0" stroke-width="1.3"/>
<rect x="983.6" y="224.2" width="13.6" height="13.6" rx="0.8" fill="#fff" stroke="#4848f0" stroke-width="1.3"/>
<rect x="1008.8" y="223.2" width="13.6" height="13.6" rx="0.8" fill="#fff" stroke="#4848f0" stroke-width="1.3"/>
<rect x="1034" y="224" width="13.6" height="13.6" rx="0.8" fill="#fff" stroke="#4848f0" stroke-width="1.3"/>
<rect x="1059.2" y="223.4" width="13.6" height="13.6" rx="0.8" fill="#fff" stroke="#4848f0" stroke-width="1.3"/>
</g>
<g id="labels" fill="#000">
<g transform="translate(54.27,552.7) scale(1,1.055)"><text x="0" y="0" font-size="32">0.0</text></g>
<g transform="translate(54.27,447) scale(1,1.055)"><text x="0" y="0" font-size="32">0.2</text></g>
<g transform="translate(54.27,341.3) scale(1,1.055)"><text x="0" y="0" font-size="32">0.4</text></g>
<g transform="translate(54.27,235.6) scale(1,1.055)"><text x="0" y="0" font-size="32">0.6</text></g>
<g transform="translate(54.27,129.9) scale(1,1.055)"><text x="0" y="0" font-size="32">0.8</text></g>
<g transform="translate(54.27,24.2) scale(1,1.055)"><text x="0" y="0" font-size="32"><tspan dx="1.06">1</tspan><tspan dx="-1.06">.0</tspan></text><rect x="2.61" y="-2.99" width="6.46" height="3.79" fill="#fff"/><rect x="11.98" y="-2.99" width="6.21" height="3.79" fill="#fff"/></g>
<g transform="translate(1175.9,552.7) scale(1,1.055)"><text x="0" y="0" font-size="32">0.0</text></g>
<g transform="translate(1175.9,420.57) scale(1,1.055)"><text x="0" y="0" font-size="32">0.5</text></g>
<g transform="translate(1175.9,288.45) scale(1,1.055)"><text x="0" y="0" font-size="32"><tspan dx="1.06">1</tspan><tspan dx="-1.06">.0</tspan></text><rect x="2.61" y="-2.99" width="6.46" height="3.79" fill="#fff"/><rect x="11.98" y="-2.99" width="6.21" height="3.79" fill="#fff"/></g>
<g transform="translate(1175.9,156.32) scale(1,1.055)"><text x="0" y="0" font-size="32"><tspan dx="1.06">1</tspan><tspan dx="-1.06">.5</tspan></text><rect x="2.61" y="-2.99" width="6.46" height="3.79" fill="#fff"/><rect x="11.98" y="-2.99" width="6.21" height="3.79" fill="#fff"/></g>
<g transform="translate(1175.9,24.2) scale(1,1.055)"><text x="0" y="0" font-size="32">2.0</text></g>
<g transform="translate(225.35,580.7) scale(1,1.055)"><text x="0" y="0" font-size="32">5</text></g>
<g transform="translate(754.7,580.7) scale(1,1.055)"><text x="0" y="0" font-size="32">5</text></g>
<g transform="translate(342.6,580.7) scale(1,1.055)"><text x="0" y="0" font-size="32"><tspan dx="1.06">1</tspan><tspan dx="-1.06">0</tspan></text><rect x="2.61" y="-2.99" width="6.46" height="3.79" fill="#fff"/><rect x="11.98" y="-2.99" width="6.21" height="3.79" fill="#fff"/></g>
<g transform="translate(872.1,580.7) scale(1,1.055)"><text x="0" y="0" font-size="32"><tspan dx="1.06">1</tspan><tspan dx="-1.06">0</tspan></text><rect x="2.61" y="-2.99" width="6.46" height="3.79" fill="#fff"/><rect x="11.98" y="-2.99" width="6.21" height="3.79" fill="#fff"/></g>
<g transform="translate(468.45,580.7) scale(1,1.055)"><text x="0" y="0" font-size="32"><tspan dx="1.06">1</tspan><tspan dx="-1.06">5</tspan></text><rect x="2.61" y="-2.99" width="6.46" height="3.79" fill="#fff"/><rect x="11.98" y="-2.99" width="6.21" height="3.79" fill="#fff"/></g>
<g transform="translate(998.1,580.7) scale(1,1.055)"><text x="0" y="0" font-size="32"><tspan dx="1.06">1</tspan><tspan dx="-1.06">5</tspan></text><rect x="2.61" y="-2.99" width="6.46" height="3.79" fill="#fff"/><rect x="11.98" y="-2.99" width="6.21" height="3.79" fill="#fff"/></g>
<text x="373" y="630.5" text-anchor="middle" font-size="31.5">Cycle</text>
<text x="901.8" y="630.5" text-anchor="middle" font-size="31.5">Cycle</text>
<text transform="translate(23.6,277.9) rotate(-90)" text-anchor="middle" font-size="31.5">Normalized capacity</text>
<text transform="translate(1255.4,278.4) rotate(90)" text-anchor="middle" font-size="31.65">Absolute capacity [ amp-hour ]</text>
</g>
</g>
</svg>
</body></html>
